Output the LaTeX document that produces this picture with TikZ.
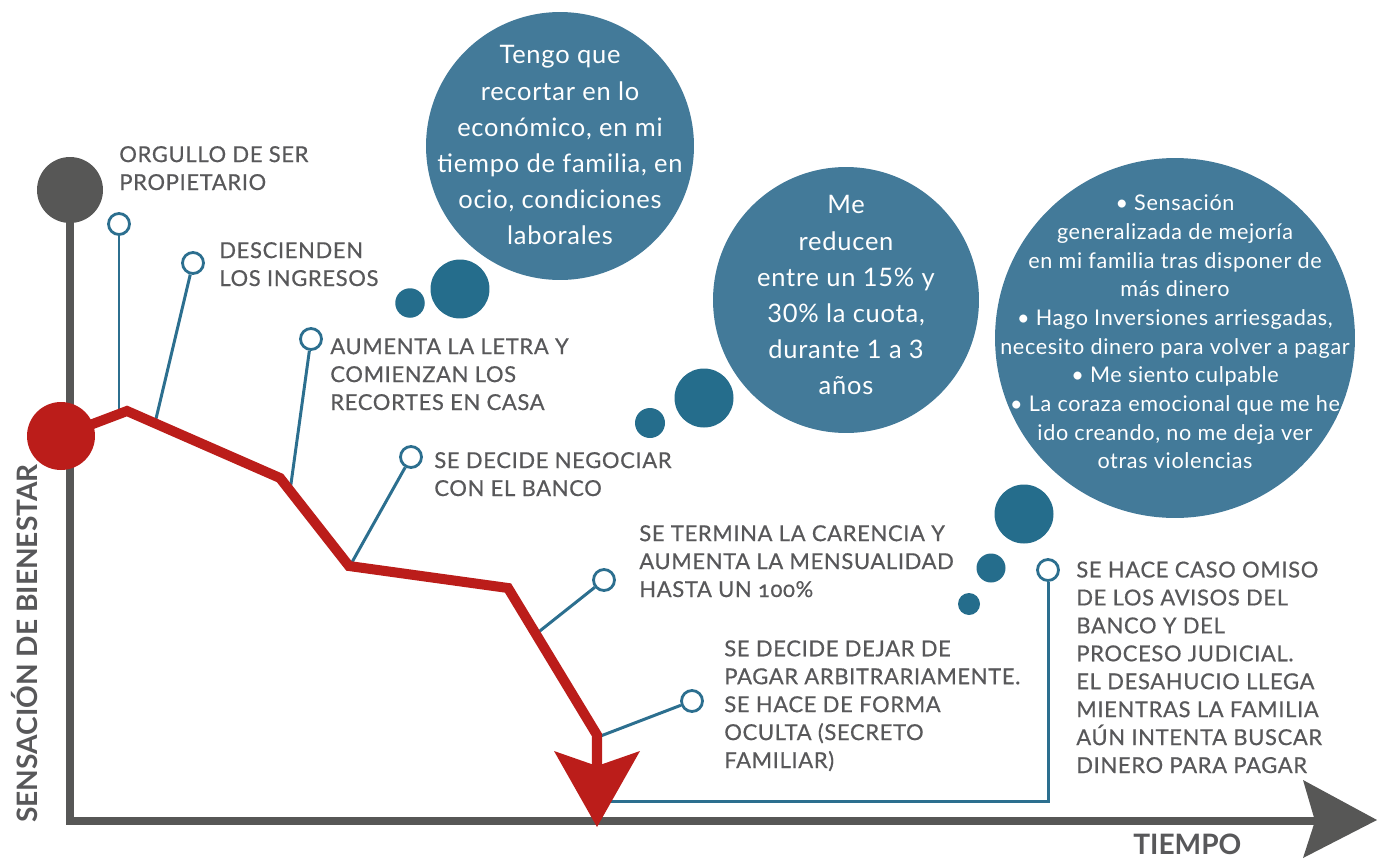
\documentclass[tikz,border=0pt]{standalone}
\usepackage{fontspec}
\setmainfont{Lato}
\newfontfamily\eventfont{Lato}[LetterSpace=3, FakeBold=0.6]
\newfontfamily\thoughtfont{Lato}[LetterSpace=3]
\usepackage{xcolor}
\definecolor{axisColor}{HTML}{575756}
\definecolor{fallColor}{HTML}{BB1D1A}
\definecolor{thoughtColor}{HTML}{437A99}
\definecolor{dotColor}{HTML}{256D8C}
\definecolor{linkColor}{HTML}{2C6F8F}
\definecolor{labelColor}{HTML}{58585A}
\usetikzlibrary{positioning}

\begin{document}
\begin{tikzpicture}[x=0.02cm, y=-0.02cm,
  eventtext/.style={anchor=base west, align=left, inner sep=0pt, text=labelColor,
    font=\eventfont\fontsize{12.5pt}{15.9pt}\selectfont},
  marker/.style={circle, draw=linkColor, line width=1.6pt, fill=white,
    minimum size=0.42cm, inner sep=0pt},
  link/.style={linkColor, line width=1.7pt},
  thought/.style={circle, fill=thoughtColor, inner sep=0pt},
  thoughttext/.style={text=white, align=center, inner sep=0pt},
  dot/.style={circle, fill=dotColor, inner sep=0pt}]
  \useasboundingbox (0,0) rectangle (1383,859);

  % axes
  \coordinate (ytop) at (70,190);
  \coordinate (origin) at (70,821);
  \coordinate (xend) at (1315,821);
  \draw[axisColor, line width=4.5pt] (ytop) -- (origin) -- (xend);
  \fill[axisColor] (1377,820) -- (1303,780) -- (xend) -- (1303,858) -- cycle;
  \node[circle, fill=axisColor, minimum size=1.32cm, inner sep=0pt] (owner) at (ytop) {};

  % markers and their links to the curve
  \foreach \i/\mx/\my/\qx/\qy in {1/119/224/119/414, 2/193/263/155/423, 3/311/339/290/491,
    4/411/457/351/564, 5/604/580/536/634, 6/692/701/598/737}{
    \coordinate (q\i) at (\qx,\qy);
    \node[marker] (m\i) at (\mx,\my) {};
    \draw[link] (m\i) -- (q\i);
  }
  \node[marker] (m7) at (1048,570) {};
  \coordinate (c7) at (1048,801);
  \coordinate (q7) at (607,801);
  \draw[link] (m7) -- (c7) -- (q7);

  % falling curve
  \coordinate (p0) at (61,436);
  \coordinate (p1) at (127,411);
  \coordinate (p2) at (280,478);
  \coordinate (p3) at (349,566);
  \coordinate (p4) at (508,588);
  \coordinate (p5) at (597,735);
  \coordinate (p6) at (597,766);
  \draw[fallColor, line width=5.7pt] (p0) -- (p1) -- (p2) -- (p3) -- (p4) -- (p5) -- (p6);
  \fill[fallColor] (p6) -- (554,751) -- (597,827) -- (640,751) -- cycle;
  \node[circle, fill=fallColor, minimum size=1.36cm, inner sep=0pt] (now) at (p0) {};

  % thoughts
  \node[thought, minimum size=5.36cm] (cut) at (560,146) {};
  \node[thoughttext, font=\thoughtfont\fontsize{14.5pt}{20.5pt}\selectfont] (cut text) at (560,145)
    {Tengo que\\recortar en lo\\económico, en mi\\tiempo de familia, en\\ocio, condiciones\\laborales};
  \node[dot, minimum size=1.18cm] (cut dot a) at (460,289) {};
  \node[dot, minimum size=0.59cm] (cut dot b) at (410,303) {};

  \node[thought, minimum size=5.32cm] (relief) at (846,300) {};
  \node[thoughttext, font=\thoughtfont\fontsize{14.5pt}{20.5pt}\selectfont] (relief text) at (846,295)
    {Me\\reducen\\entre un 15\% y\\30\% la cuota,\\durante 1 a 3\\años};
  \node[dot, minimum size=1.18cm] (relief dot a) at (704,398) {};
  \node[dot, minimum size=0.6cm] (relief dot b) at (650,423) {};

  \node[thought, minimum size=7.2cm] (guilt) at (1175,338) {};
  \node[thoughttext, font=\thoughtfont\fontsize{12.3pt}{16.3pt}\selectfont] (guilt text) at (1175,332)
    {• Sensación\\generalizada de mejoría\\en mi familia tras disponer de\\más dinero\\
     • Hago Inversiones arriesgadas,\\necesito dinero para volver a pagar\\
     • Me siento culpable\\• La coraza emocional que me he\\ido creando, no me deja ver\\otras violencias};
  \node[dot, minimum size=1.18cm] (guilt dot a) at (1024,514) {};
  \node[dot, minimum size=0.58cm] (guilt dot b) at (991,568) {};
  \node[dot, minimum size=0.44cm] (guilt dot c) at (969,604) {};

  % events (anchored at the baseline of their last line)
  \node[eventtext] (orgullo) at (119,190) {ORGULLO DE SER\\PROPIETARIO};
  \node[eventtext] (ingresos) at (219,286) {DESCIENDEN\\LOS INGRESOS};
  \node[eventtext] (recortes) at (330,410) {AUMENTA LA LETRA Y\\COMIENZAN LOS\\RECORTES EN CASA};
  \node[eventtext] (negociar) at (434,496) {SE DECIDE NEGOCIAR\\CON EL BANCO};
  \node[eventtext] (carencia) at (639,597)
    {SE TERMINA LA CARENCIA Y\\AUMENTA LA MENSUALIDAD\\HASTA UN {\addfontfeature{Numbers=OldStyle}100\%}};
  \node[eventtext] (impago) at (724,768)
    {SE DECIDE DEJAR DE\\PAGAR ARBITRARIAMENTE.\\SE HACE DE FORMA\\OCULTA (SECRETO\\FAMILIAR)};
  \node[eventtext] (desahucio) at (1076,773)
    {SE HACE CASO OMISO\\DE LOS AVISOS DEL\\BANCO Y DEL\\PROCESO JUDICIAL.\\EL DESAHUCIO LLEGA\\MIENTRAS LA FAMILIA\\AÚN INTENTA BUSCAR\\DINERO PARA PAGAR};

  % axis titles
  \node[anchor=base west, inner sep=0pt, text depth=0pt, text=labelColor, font=\bfseries\fontsize{16pt}{18pt}\selectfont]
    (tiempo) at (1133,854) {TIEMPO};
  \node[rotate=90, anchor=base west, inner sep=0pt, text=labelColor, font=\bfseries\fontsize{16pt}{18pt}\selectfont]
    (bienestar) at (37,823) {SENSACIÓN DE BIENESTAR};
\end{tikzpicture}
\end{document}
